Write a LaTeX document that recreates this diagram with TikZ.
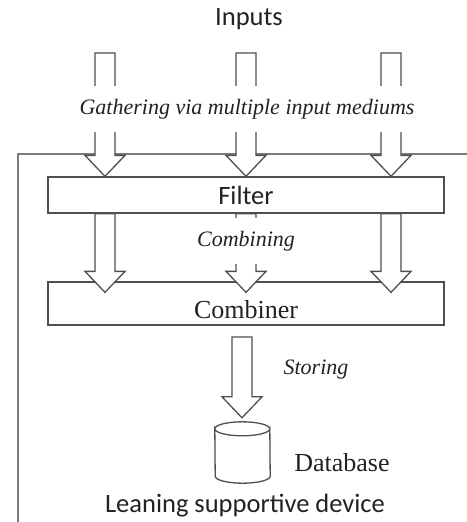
\documentclass[tikz,border=0pt]{standalone}
\usepackage{fontspec}
\setmainfont{Liberation Serif}
\setsansfont{Carlito}
\usetikzlibrary{calc}
\definecolor{linegray}{HTML}{4F4F4F}
\definecolor{framegray}{HTML}{7A7A7A}
\definecolor{inkgray}{HTML}{222222}
\tikzset{
stagebox/.style={draw=linegray, line width=1.3pt, fill=white,
    minimum width=396pt, inner sep=2pt, text=inkgray},
hollowarrow/.style={draw=linegray, line width=1.3pt, fill=white, line join=miter},
steplabel/.style={font=\fontsize{22}{26}\selectfont\itshape, text=inkgray,
    fill=white, inner sep=0pt, minimum height=46pt},
plainlabel/.style={text=inkgray},
sanslabel/.style={text=inkgray, font=\sffamily\fontsize{26.5}{31}\selectfont}
}
\newcommand{\blockarrow}[2]{%
  \draw[hollowarrow] let \p1=(#1), \p2=(#2) in
    (\x1-10pt,\y1) -- (\x1-10pt,\y2+21pt) -- (\x1-20pt,\y2+21pt) -- (\x1,\y2)
    -- (\x1+20pt,\y2+21pt) -- (\x1+10pt,\y2+21pt) -- (\x1+10pt,\y1) -- cycle;}

\begin{document}
\begin{tikzpicture}[x=1pt,y=-1pt]
\useasboundingbox (0,0) rectangle (466,522);
% frame of the device
\draw[framegray, line width=2pt] (18,523) -- (18,154) -- (467,154);

\node[sanslabel] (inputs) at (249,19) {Inputs};
\node[stagebox, minimum height=36pt, sanslabel] (filter) at (246,195) {Filter};
\node[stagebox, minimum height=43pt, text height=29pt, text depth=0pt,
	font=\fontsize{26}{31}\selectfont] (combiner) at (246,303.5) {Combiner};

% input mediums
\foreach \i/\x in {1/105, 2/246, 3/391}{
	\coordinate (in\i) at (\x,53);
	\blockarrow{in\i}{in\i |- filter.north}
}
\node[steplabel] (gather) at (247,109) {Gathering via multiple input mediums};

% filter to combiner
\foreach \i in {1,2,3}{
	\coordinate (mid\i) at (in\i |- filter.south);
	\coordinate (tip\i) at ($(in\i |- combiner.north)+(0,11)$);
	\blockarrow{mid\i}{tip\i}
}
\node[steplabel] (combining) at (246,241) {Combining};

% storing
\node[minimum width=55pt, minimum height=61pt, inner sep=0pt] (db) at (242.5,452.5) {};
\draw[hollowarrow] ($(db.north west)+(0,7)$) arc[start angle=180, end angle=0, x radius=27.5, y radius=7]
	-- ($(db.south east)+(0,-7)$) arc[start angle=0, end angle=180, x radius=27.5, y radius=7] -- cycle;
\draw[hollowarrow] ($(db.north west)+(0,7)$) arc[start angle=180, end angle=360, x radius=27.5, y radius=7];
\coordinate (st) at (242,337);
\coordinate (sttip) at ($(st |- db.north)+(0,-4)$);
\blockarrow{st}{sttip}
\node[plainlabel, font=\fontsize{22}{26}\selectfont\itshape] (storing) at (316,370) {Storing};
\node[plainlabel, font=\fontsize{26}{31}\selectfont] (dblabel) at (342,463) {Database};
\node[sanslabel] (device) at (245,506) {Leaning supportive device};
\end{tikzpicture}
\end{document}
